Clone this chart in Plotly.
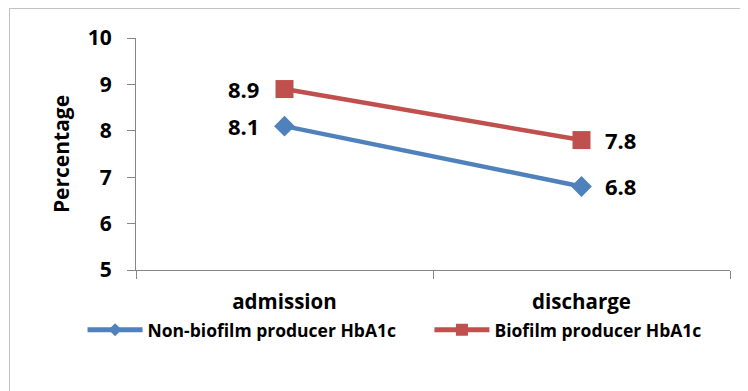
import plotly.graph_objects as go

categories = ["admission", "discharge"]
non_biofilm = [8.1, 6.8]
biofilm = [8.9, 7.8]
series_names = ["Non-biofilm producer HbA1c", "Biofilm producer HbA1c"]
y_ticks = [5, 6, 7, 8, 9, 10]

FONT = "Open Sans"
BLUE = "#4F81BD"
RED = "#C0504D"
AXIS = "#868686"

fig = go.Figure()
series = [
    (non_biofilm, series_names[0], BLUE, "diamond", 16, 10, "legend"),
    (biofilm, series_names[1], RED, "square", 18, 12, "legend2"),
]
for vals, name, color, sym, msize, lsize, leg in series:
    fig.add_trace(go.Scatter(
        x=categories, y=vals, name=name, showlegend=False,
        mode="lines+markers",
        line=dict(color=color, width=4.5),
        marker=dict(symbol=sym, size=msize, color=color),
    ))
for vals, name, color, sym, msize, lsize, leg in series:
    # legend entries (smaller legend symbols, as in the reference)
    fig.add_trace(go.Scatter(
        x=[None], y=[None], name=name, showlegend=True, legend=leg,
        mode="lines+markers",
        line=dict(color=color, width=5),
        marker=dict(symbol=sym, size=lsize, color=color),
    ))

annotations = []
for vals in (non_biofilm, biofilm):
    for i, (c, v) in enumerate(zip(categories, vals)):
        annotations.append(dict(
            x=c, y=v, xref="x", yref="y", text=f"{v:.1f}", showarrow=False,
            xanchor="right" if i == 0 else "left", yanchor="middle",
            xshift=-24 if i == 0 else 21,
            font=dict(family=FONT, size=22, color="black", weight="bold"),
        ))

legend_style = dict(orientation="h", xanchor="left", y=-0.258, yanchor="middle",
                    font=dict(family=FONT, size=17.5, color="black", weight="bold"),
                    itemwidth=55, bgcolor="rgba(0,0,0,0)")

fig.update_layout(
    width=740, height=383,
    margin=dict(l=128, r=18, t=30, b=121),
    paper_bgcolor="white", plot_bgcolor="white",
    font=dict(family=FONT, color="black"),
    showlegend=True,
    annotations=annotations,
    legend=dict(x=-0.09, **legend_style),
    legend2=dict(x=0.494, **legend_style),
    shapes=[dict(type="rect", xref="paper", yref="paper",
                 x0=-0.213, x1=1.2, y0=-0.8, y1=1.127,
                 line=dict(color="#BFBFBF", width=1), fillcolor="rgba(0,0,0,0)", layer="below")],
)
fig.update_xaxes(
    type="category", range=[-0.5, 1.5],
    showline=True, linecolor=AXIS, linewidth=1,
    ticks="outside", tickson="boundaries", ticklen=8, tickcolor=AXIS,
    showgrid=False, ticklabelstandoff=13,
    tickfont=dict(family=FONT, size=20.5, color="black", weight="bold"),
)
fig.update_yaxes(
    range=[5, 10], tickvals=y_ticks,
    showline=True, linecolor=AXIS, linewidth=1,
    ticks="outside", ticklen=8, tickcolor=AXIS,
    showgrid=False, zeroline=False, ticklabelstandoff=11,
    tickfont=dict(family=FONT, size=21, color="black", weight="bold"),
    title=dict(text="Percentage", standoff=12,
               font=dict(family=FONT, size=21, color="black", weight="bold")),
)

fig.write_html("out.html")
